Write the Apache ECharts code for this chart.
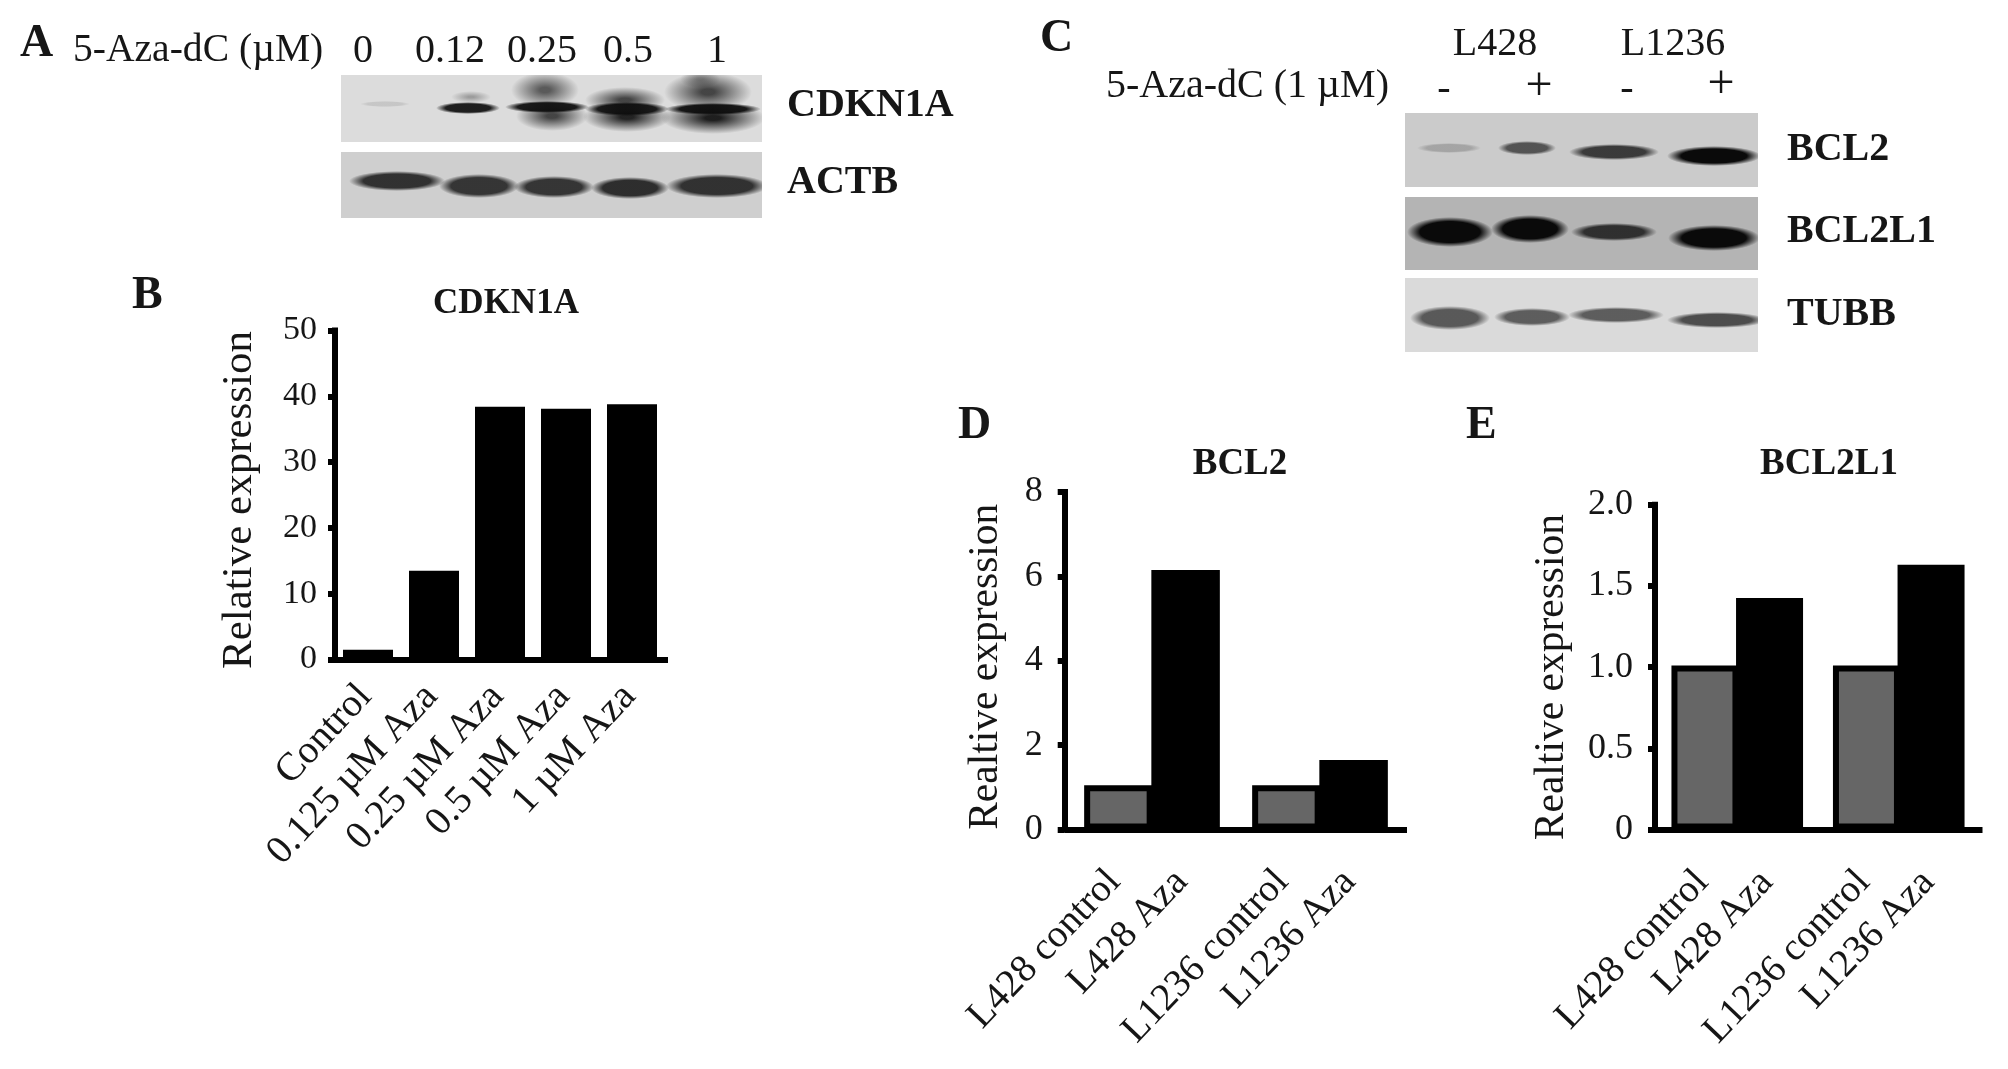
<!DOCTYPE html>
<html><head><meta charset="utf-8">
<style>html,body{margin:0;padding:0;background:#fff}#c{width:2008px;height:1069px}</style>
<script src="https://cdn.jsdelivr.net/npm/echarts@6/dist/echarts.min.js"></script>
</head><body><div id="c"></div>
<script>
// ---- bar chart data ----
const cdkn1aCategories = ['Control','0.125 µM Aza','0.25 µM Aza','0.5 µM Aza','1 µM Aza'];
const cdkn1aValues = [1.5,13.5,38.4,38.1,38.8];
const cellCategories = ['','L428 control','','L428 Aza','','','L1236 control','','L1236 Aza',''];
const bcl2Values = [null,1.05,null,6.15,null,null,1.05,null,1.65,null];
const bcl2l1Values = [null,1.01,null,1.425,null,null,1.01,null,1.63,null];
const doseLabels = ['0','0.12','0.25','0.5','1'];
// ---- blot band readings: [x, y, half-width, half-height, density] in blot units ----
const cdkn1aSmears = [[130,22,20,6,0.3],[204,15,34,18,0.62],[211,41,36,15,0.72],[284,25,40,13,0.72],[286,42,44,15,0.88],[359,4,20,9,0.3],[367,17,44,20,0.72],[372,43,52,16,0.9]];
const cdkn1aBands = [[44,29,25,3,0.1],[127,33,32,6,0.9],[206,32,42,6,0.92],[286,34,42,7,0.9],[372,34,48,6,0.92]];
const actbBands = [[56,29,48,10,0.8],[138,34,40,12,0.78],[213,35,40,11,0.78],[289,36,39,11,0.82],[376,34,51,12,0.8]];
const bcl2Bands = [[44,35,32,5,0.2],[122,35,29,7,0.62],[209,39,45,8,0.75],[309,43,47,10,1]];
const bcl2l1Bands = [[45,35,43,15,1],[125,32,39,14,1],[209,35,43,9,0.78],[309,41,46,13,1]];
const tubbBands = [[45,40,40,12,0.62],[127,39,38,9,0.6],[211,37,48,8,0.6],[312,42,50,8,0.68]];

const serif = '"Liberation Serif","Times New Roman",serif';
const ink = '#161616';

function bandSeries(idx, bands, plateau){
  return {type:'custom', xAxisIndex:idx, yAxisIndex:idx, data:bands, silent:true, clip:true,
    renderItem(params, api){
      const c = api.coord([api.value(0), api.value(1)]);
      const s = api.size([api.value(2), api.value(3)]);
      const a = api.value(4);
      return {type:'circle', x:c[0], y:c[1], scaleX:s[0], scaleY:s[1], shape:{cx:0,cy:0,r:1},
        style:{fill:{type:'radial',x:0.5,y:0.5,r:0.5,colorStops:[
          {offset:0,color:'rgba(10,10,10,'+a+')'},
          {offset:plateau,color:'rgba(10,10,10,'+a+')'},
          {offset:1,color:'rgba(10,10,10,0)'}]}}};
    }};
}
const blots = [
  {box:[341,75,421,67], bg:'#dcdcdc', bands:cdkn1aBands, smears:cdkn1aSmears},
  {box:[341,152,421,66], bg:'#cfcfcf', bands:actbBands},
  {box:[1405,113,353,74], bg:'#cbcbcb', bands:bcl2Bands},
  {box:[1405,197,353,73], bg:'#b4b4b4', bands:bcl2l1Bands},
  {box:[1405,278,353,74], bg:'#dadada', bands:tubbBands}
];
const grids=[], xAxes=[], yAxes=[], series=[];
blots.forEach((b,i)=>{
  grids.push({left:b.box[0],top:b.box[1],width:b.box[2],height:b.box[3],show:true,backgroundColor:b.bg,borderWidth:0});
  xAxes.push({type:'value',gridIndex:i,min:0,max:b.box[2],show:false});
  yAxes.push({type:'value',gridIndex:i,min:0,max:b.box[3],inverse:true,show:false});
  if(b.smears) series.push(bandSeries(i,b.smears,0.15));
  series.push(bandSeries(i,b.bands,0.7));
});
const isNamed = (i,v)=>v!=='';
function barChart(o){
  const g = grids.length;
  grids.push({left:o.left,top:o.top,width:o.width,height:o.height,show:false});
  xAxes.push({type:'category',gridIndex:g,data:o.cats,
    axisLine:{lineStyle:{color:'#000',width:o.lw,cap:'square'}},
    axisTick:{alignWithLabel:true,length:13,lineStyle:{color:'#000',width:o.lw},interval:isNamed},
    axisLabel:{rotate:o.xRotate,interval:isNamed,fontFamily:serif,fontSize:o.xFont,color:ink,margin:o.xMargin,padding:[0,o.xPad,0,0],hideOverlap:false},
    splitLine:{show:false}});
  yAxes.push({type:'value',gridIndex:g,min:o.min,max:o.max,interval:o.interval,offset:o.yOffset||0,
    name:o.yName,nameLocation:'middle',nameGap:o.nameGap,nameRotate:90,
    nameTextStyle:{fontFamily:serif,fontSize:o.nameFont,color:ink,padding:[0,o.namePad,0,0]},
    axisLine:{show:true,lineStyle:{color:'#000',width:o.lw,cap:'square'}},
    axisTick:{show:true,length:7,lineStyle:{color:'#000',width:o.lw}},
    axisLabel:{fontFamily:serif,fontSize:o.yFont,color:ink,margin:o.yMargin,formatter:o.fmt,showMinLabel:true,showMaxLabel:true,hideOverlap:false},
    splitLine:{show:false}});
  series.push({type:'bar',xAxisIndex:g,yAxisIndex:g,data:o.values,barWidth:o.barWidth,
    itemStyle:{color:p=>/control/.test(p.name)?'#666666':'#000',borderColor:'#000',borderWidth:o.border}});
}
barChart({cats:cdkn1aCategories,values:cdkn1aValues,left:335,top:330.5,width:330,height:329,lw:6,
  xFont:39.5,xRotate:47,xPad:4,xMargin:28,min:0,max:50,interval:10,yFont:34,yMargin:18,yName:'Relative expression',nameGap:74,nameFont:43,namePad:10,barWidth:50,border:0});
const fmtE = v=>v===0?'0':v.toFixed(1);
barChart({cats:cellCategories,values:bcl2Values,left:1068,top:492,width:336,height:337.5,lw:6,
  xFont:39,xRotate:46.5,xPad:6,xMargin:42,min:0,max:8,interval:2,yFont:36,yMargin:22,yOffset:3.3,yName:'Realtive expression',nameGap:58,nameFont:41.5,namePad:12,barWidth:68.5,border:6});
barChart({cats:cellCategories,values:bcl2l1Values,left:1656.5,top:504.7,width:323,height:324.8,lw:6,
  xFont:39,xRotate:46.5,xPad:4,xMargin:44,min:0,max:2,interval:0.5,yFont:36,yMargin:22,yOffset:1.5,fmt:fmtE,yName:'Realtive expression',nameGap:82,nameFont:41.5,namePad:20,barWidth:67,border:6});

const T=(text,x,y,size,opt={})=>({type:'text',x,y,silent:true,style:{text,fill:ink,font:(opt.bold?'bold ':'')+size+'px '+serif,textAlign:opt.align||'left',textVerticalAlign:'middle'}});
const labelColumn = [363,450,542,628,717];
const graphic = [
  T('A',20,44,46,{bold:1}),T('B',132,296,46,{bold:1}),T('C',1040,39,46,{bold:1}),T('D',958,426,46,{bold:1}),T('E',1466,426,46,{bold:1}),
  T('5-Aza-dC (µM)',73,51,39.6),
  ...doseLabels.map((d,i)=>T(d,labelColumn[i],51,40,{align:'center'})),
  T('CDKN1A',787,106,40,{bold:1}),T('ACTB',787,183,40,{bold:1}),
  T('L428',1495,44,40,{align:'center'}),T('L1236',1673,44,40,{align:'center'}),
  T('5-Aza-dC (1 µM)',1106,86,40),
  T('-',1444,89,40,{align:'center'}),T('+',1539,87,48,{align:'center'}),T('-',1627,89,40,{align:'center'}),T('+',1721,85,48,{align:'center'}),
  T('BCL2',1787,150,40,{bold:1}),T('BCL2L1',1787,232,40,{bold:1}),T('TUBB',1787,315,40,{bold:1})
];
const ttl=(text,x,y,size)=>({text,left:x,top:y-size/2,textAlign:'center',textStyle:{fontFamily:serif,fontWeight:'bold',fontSize:size,color:ink,lineHeight:size}});
const chart = echarts.init(document.getElementById('c'),null,{renderer:'canvas'});
chart.setOption({animation:false,backgroundColor:'#fff',tooltip:{show:false},
  title:[ttl('CDKN1A',501,299,35),ttl('BCL2',1235,459,37),ttl('BCL2L1',1824,459,37)],
  grid:grids,xAxis:xAxes,yAxis:yAxes,series,graphic});
</script></body></html>
